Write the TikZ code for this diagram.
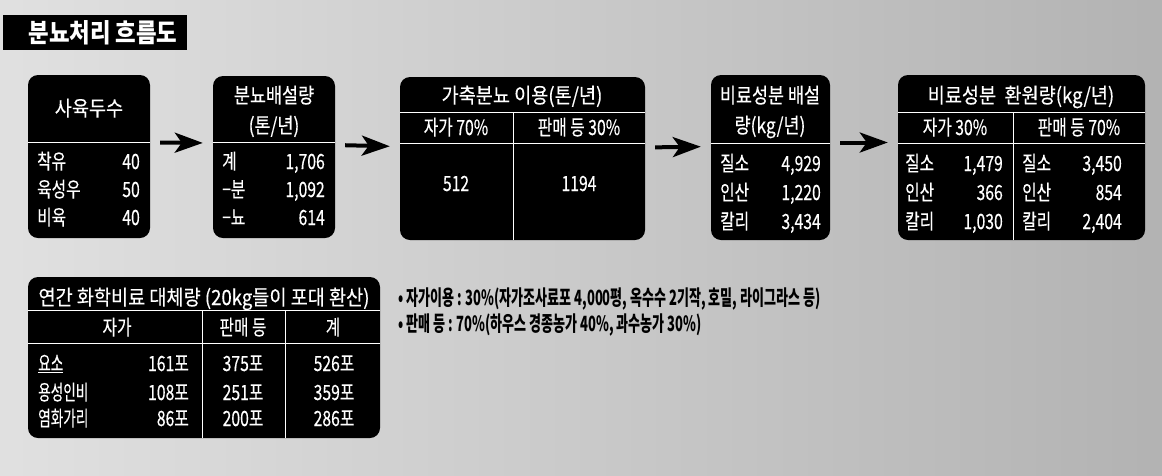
\documentclass[tikz,border=0pt]{standalone}
\usepackage{fontspec}
\setmainfont{Noto Sans CJK KR}
\newfontfamily\krbox[FakeStretch=0.75,FakeBold=0.3]{Noto Sans CJK KR}
\newfontfamily\krlab[FakeStretch=0.65,FakeBold=0.3]{Noto Sans CJK KR}
\newfontfamily\krhead[FakeStretch=0.885,FakeBold=0.3]{Noto Sans CJK KR}
\newfontfamily\krheadn[FakeStretch=0.83,FakeBold=0.3]{Noto Sans CJK KR}
\newfontfamily\krbul[FakeStretch=0.62]{Noto Sans CJK KR}
\newfontfamily\krtitle[FakeStretch=0.86]{Noto Sans CJK KR}
\usetikzlibrary{arrows.meta}
\begin{document}
\begin{tikzpicture}[x=1pt,y=-1pt,
  panel/.style={fill=black, draw=none, rounded corners=10pt, inner sep=0pt},
  wline/.style={draw=white, line width=0.9pt},
  wt/.style={text=white, inner sep=0pt, font=\krbox\fontsize{21}{23}\selectfont},
  lt/.style={text=white, inner sep=0pt, font=\krlab\fontsize{21}{23}\selectfont},
  ht/.style={text=white, inner sep=0pt, font=\krhead\fontsize{21}{23}\selectfont},
  hn/.style={text=white, inner sep=0pt, font=\krheadn\fontsize{21}{23}\selectfont},
  bt/.style={text=black, inner sep=0pt, font=\krbul\bfseries\fontsize{21}{23}\selectfont, anchor=base west},
  flow/.style={line width=4pt, -{Stealth[length=28pt,width=20pt,inset=7pt]}, shorten <=10pt, shorten >=10pt}
]
\useasboundingbox (0,0) rectangle (1162,475);
\shade[left color=black!12, middle color=black!3, right color=black!30] (0,0) rectangle (1162,475);

% title
\node[fill=black, inner sep=0pt, minimum width=184pt, minimum height=35pt] (title) at (95,32.5) {};
\node[text=white, inner sep=0pt, anchor=base, font=\krtitle\bfseries\fontsize{26}{28}\selectfont] (titletext) at (103,42) {분뇨처리 흐름도};

% box 1
\node[panel, minimum width=122pt, minimum height=163pt] (b1) at (89,156.5) {};
\draw[wline] (28,142) -- (150,142);
\node[ht, anchor=base] (b1h) at (89,116) {사육두수};
\node[wt, anchor=base west] (b1l1) at (37,169) {착유};
\node[wt, anchor=base east] (b1v1) at (140,169) {40};
\node[wt, anchor=base west] (b1l2) at (37,197) {육성우};
\node[wt, anchor=base east] (b1v2) at (140,197) {50};
\node[wt, anchor=base west] (b1l3) at (37,225) {비육};
\node[wt, anchor=base east] (b1v3) at (140,225) {40};

% box 2
\node[panel, minimum width=122pt, minimum height=162pt] (b2) at (274,157) {};
\draw[wline] (213,142) -- (335,142);
\node[hn, anchor=base] (b2h1) at (274,103) {분뇨배설량};
\node[hn, anchor=base] (b2h2) at (274,133) {(톤/년)};
\node[wt, anchor=base west] (b2l1) at (222,169) {계};
\node[wt, anchor=base east] (b2v1) at (325,169) {1,706};
\node[wt, anchor=base west] (b2l2) at (222,197) {−분};
\node[wt, anchor=base east] (b2v2) at (325,197) {1,092};
\node[wt, anchor=base west] (b2l3) at (222,225) {−뇨};
\node[wt, anchor=base east] (b2v3) at (325,225) {614};

% box 3
\node[panel, minimum width=245pt, minimum height=163pt] (b3) at (522.5,158.5) {};
\draw[wline] (400,112) -- (645,112);
\draw[wline] (400,143) -- (645,143);
\draw[wline] (513,112) -- (513,240);
\node[ht, anchor=base] (b3h) at (522,103) {가축분뇨 이용(톤/년)};
\node[wt, anchor=base] (b3s1) at (456,135) {자가 70\%};
\node[wt, anchor=base] (b3s2) at (579,135) {판매 등 30\%};
\node[wt, anchor=base] (b3v1) at (456,191) {512};
\node[wt, anchor=base] (b3v2) at (579,191) {1194};

% box 4
\node[panel, minimum width=119pt, minimum height=165pt] (b4) at (770.5,157.5) {};
\draw[wline] (711,143) -- (830,143);
\node[hn, anchor=base] (b4h1) at (770,103) {비료성분 배설};
\node[hn, anchor=base] (b4h2) at (770,133) {량(kg/년)};
\node[wt, anchor=base west] (b4l1) at (720,171) {질소};
\node[wt, anchor=base east] (b4v1) at (821,171) {4,929};
\node[wt, anchor=base west] (b4l2) at (720,200) {인산};
\node[wt, anchor=base east] (b4v2) at (821,200) {1,220};
\node[wt, anchor=base west] (b4l3) at (720,229) {칼리};
\node[wt, anchor=base east] (b4v3) at (821,229) {3,434};

% box 5
\node[panel, minimum width=247pt, minimum height=165pt] (b5) at (1021.5,157.5) {};
\draw[wline] (898,112) -- (1145,112);
\draw[wline] (898,143) -- (1145,143);
\draw[wline] (1013,112) -- (1013,240);
\node[ht, anchor=base] (b5h) at (1021,103) {비료성분\ \ 환원량(kg/년)};
\node[wt, anchor=base] (b5s1) at (955,135) {자가 30\%};
\node[wt, anchor=base] (b5s2) at (1079,135) {판매 등 70\%};
\node[wt, anchor=base west] (b5l1) at (905,171) {질소};
\node[wt, anchor=base east] (b5v1) at (1003,171) {1,479};
\node[wt, anchor=base west] (b5l2) at (905,200) {인산};
\node[wt, anchor=base east] (b5v2) at (1003,200) {366};
\node[wt, anchor=base west] (b5l3) at (905,229) {칼리};
\node[wt, anchor=base east] (b5v3) at (1003,229) {1,030};
\node[wt, anchor=base west] (b5r1) at (1022,171) {질소};
\node[wt, anchor=base east] (b5w1) at (1122,171) {3,450};
\node[wt, anchor=base west] (b5r2) at (1022,200) {인산};
\node[wt, anchor=base east] (b5w2) at (1122,200) {854};
\node[wt, anchor=base west] (b5r3) at (1022,229) {칼리};
\node[wt, anchor=base east] (b5w3) at (1122,229) {2,404};

% arrows
\draw[flow] ([yshift=14pt]b1.east) -- ([yshift=14pt]b2.west);
\draw[flow] ([yshift=12pt]b2.east) -- ([yshift=12pt]b3.west);
\draw[flow] ([yshift=11pt]b3.east) -- ([yshift=11pt]b4.west);
\draw[flow] ([yshift=15pt]b4.east) -- ([yshift=15pt]b5.west);

% bottom table
\node[panel, minimum width=352pt, minimum height=161pt] (b6) at (204,357.5) {};
\draw[wline] (28,310) -- (380,310);
\draw[wline] (28,343) -- (380,343);
\draw[wline] (202,310) -- (202,438);
\draw[wline] (285,310) -- (285,438);
\node[ht, anchor=base] (b6h) at (204,305) {연간 화학비료 대체량 (20kg들이 포대 환산)};
\node[wt, anchor=base] (b6s1) at (117,335) {자가};
\node[wt, anchor=base] (b6s2) at (243,335) {판매 등};
\node[wt, anchor=base] (b6s3) at (333,335) {계};
\node[lt, anchor=base west] (b6l1) at (38,371) {\underline{요소}};
\node[wt, anchor=base east] (b6a1) at (189,371) {161포};
\node[wt, anchor=base] (b6b1) at (243,371) {375포};
\node[wt, anchor=base] (b6c1) at (334,371) {526포};
\node[lt, anchor=base west] (b6l2) at (38,400) {용성인비};
\node[wt, anchor=base east] (b6a2) at (189,400) {108포};
\node[wt, anchor=base] (b6b2) at (243,400) {251포};
\node[wt, anchor=base] (b6c2) at (334,400) {359포};
\node[lt, anchor=base west] (b6l3) at (38,426) {염화가리};
\node[wt, anchor=base east] (b6a3) at (189,426) {86포};
\node[wt, anchor=base] (b6b3) at (243,426) {200포};
\node[wt, anchor=base] (b6c3) at (334,426) {286포};

% notes
\node[bt] (n1) at (398,305) {• 자가이용 : 30\%(자가조사료포 4,000평, 옥수수 2기작, 호밀, 라이그라스 등)};
\node[bt] (n2) at (398,331) {• 판매 등 : 70\%(하우스 경종농가 40\%, 과수농가 30\%)};
\end{tikzpicture}
\end{document}
